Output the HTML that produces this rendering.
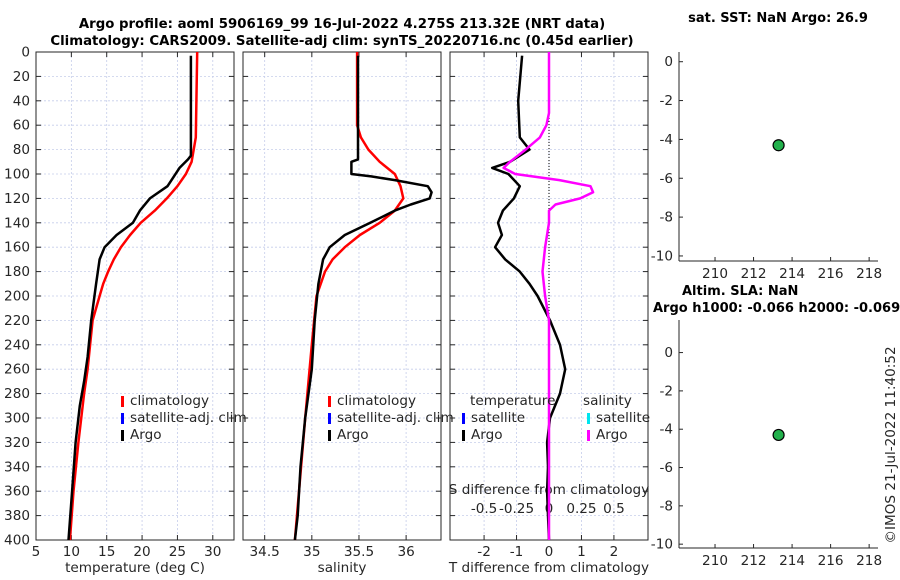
<!DOCTYPE html>
<html><head><meta charset="utf-8"><style>
html,body{margin:0;padding:0;background:#fff;}
svg{display:block;font-family:"DejaVu Sans","Liberation Sans",sans-serif;}
</style></head><body>
<svg id="c" width="900" height="580" viewBox="0 0 900 580"></svg>
<script>
const depthTicks=[0,20,40,60,80,100,120,140,160,180,200,220,240,260,280,300,320,340,360,380,400];
const tempTicks=[5,10,15,20,25,30];
const salTicks=[34.5,35,35.5,36];
const tdiffTicks=[-2,-1,0,1,2];
const sdiffTicks=[-0.5,-0.25,0,0.25,0.5];
const sdiffLabels=["-0.5","-0.25","0","0.25","0.5"];
const mapXTicks=[210,212,214,216,218];
const mapYTicks=[0,-2,-4,-6,-8,-10];
const argoTempDepth=[3,85,88,95,110,120,130,140,150,160,170,190,220,250,270,290,320,360,400];
const argoTemp=[26.9,26.9,26.5,25.3,23.6,21.1,19.7,18.7,16.4,14.7,14.0,13.5,12.8,12.3,11.8,11.2,10.6,10.1,9.6];
const climTempDepth=[0,70,90,100,110,120,130,140,150,160,170,180,190,200,220,260,280,320,360,400];
const climTemp=[27.8,27.6,27.0,26.2,25.0,23.5,21.8,19.8,18.3,17.0,16.0,15.2,14.5,14.0,13.0,12.3,11.8,11.0,10.3,9.8];
const argoSalDepth=[3,88,90,100,102,105,110,115,120,125,130,140,150,160,170,190,220,260,300,340,380,400];
const argoSal=[35.49,35.49,35.42,35.42,35.63,35.88,36.23,36.27,36.25,36.05,35.88,35.62,35.35,35.19,35.12,35.07,35.03,35.00,34.93,34.88,34.85,34.82];
const climSalDepth=[0,60,70,80,90,100,110,120,130,140,150,160,170,180,200,240,300,400];
const climSal=[35.48,35.48,35.52,35.6,35.72,35.88,35.94,35.97,35.88,35.72,35.51,35.35,35.22,35.14,35.05,35.0,34.93,34.82];
const tdiffDepth=[3,40,70,80,90,95,100,110,120,130,140,150,160,170,180,190,200,220,240,260,280,300,320,340,360,380,400];
const tdiff=[-0.83,-0.95,-0.9,-0.6,-1.2,-1.75,-1.25,-0.9,-1.08,-1.42,-1.57,-1.45,-1.66,-1.35,-0.9,-0.6,-0.35,0.03,0.34,0.5,0.34,0.03,-0.06,-0.03,-0.06,-0.03,0.0];
const sdiffDepth=[0,50,60,70,80,90,95,100,105,110,115,120,125,130,140,160,180,200,220,300,400];
const sdiff=[0,0,-0.02,-0.07,-0.18,-0.3,-0.35,-0.26,0.08,0.32,0.34,0.24,0.05,0,0,-0.03,-0.05,-0.03,0,0,0];
const argoLon=[213.3];
const argoLatTop=[-4.3];
const argoLatBot=[-4.3];

const svg=document.getElementById('c');
const NS='http://www.w3.org/2000/svg';
function mk(tag,attrs,parent){const e=document.createElementNS(NS,tag);for(const k in attrs)e.setAttribute(k,attrs[k]);(parent||svg).appendChild(e);return e;}
function txt(s,x,y,opts,parent){const e=mk('text',Object.assign({x:x,y:y,'font-size':13.6,fill:'#262626'},opts||{}),parent);e.textContent=s;return e;}

const TOP=52,BOT=540;
const yD=d=>TOP+(d/400)*(BOT-TOP);
function panel(name,x0,x1,vmin,vmax,ticks,labels,xlabel){
  const g=mk('g',{});
  
  
  const xs=v=>x0+(v-vmin)/(vmax-vmin)*(x1-x0);
  ticks.forEach((t,i)=>{const x=xs(t);
    mk('line',{x1:x,x2:x,y1:TOP,y2:BOT,stroke:'#c5cdea','stroke-width':0.8,'stroke-dasharray':'2,2'},g);
    mk('line',{x1:x,x2:x,y1:BOT,y2:BOT-5,stroke:'#262626'},g);
    mk('line',{x1:x,x2:x,y1:TOP,y2:TOP+5,stroke:'#262626'},g);
    const l=txt(labels[i],x,556,{'text-anchor':'middle'},g);
    
  });
  depthTicks.forEach(d=>{const y=yD(d);
    mk('line',{x1:x0,x2:x1,y1:y,y2:y,stroke:'#c5cdea','stroke-width':0.8,'stroke-dasharray':'2,2'},g);
    mk('line',{x1:x0,x2:x0+5,y1:y,y2:y,stroke:'#262626'},g);
    mk('line',{x1:x1,x2:x1-5,y1:y,y2:y,stroke:'#262626'},g);
  });
  mk('rect',{x:x0,y:TOP,width:x1-x0,height:BOT-TOP,fill:'none',stroke:'#262626','stroke-width':1},g);
  const xl=txt(xlabel,(x0+x1)/2,572,{'text-anchor':'middle'},g);
  
  return {g,xs};
}
function line(p,vals,depths,color,w,name){
  const pts=vals.map((v,i)=>p.xs(v).toFixed(1)+','+yD(depths[i]).toFixed(1)).join(' ');
  const e=mk('polyline',{points:pts,fill:'none',stroke:color,'stroke-width':w,'stroke-linejoin':'round'},p.g);
  
}
function legend(g,x,y,items){
  items.forEach((it,i)=>{
    if(it.c) mk('rect',{x:x,y:y+i*17-9,width:3,height:11,fill:it.c},g);
    const t=txt(it.t,x+(it.c?9:0),y+i*17,{},g);
    
  });
}

let t1=txt('Argo profile: aoml 5906169_99 16-Jul-2022 4.275S 213.32E (NRT data)',342,28,{'text-anchor':'middle','font-weight':'bold',fill:'#000','font-size':13.3});

let t2=txt('Climatology: CARS2009. Satellite-adj clim: synTS_20220716.nc (0.45d earlier)',342,45,{'text-anchor':'middle','font-weight':'bold',fill:'#000','font-size':13.3});


depthTicks.forEach(d=>{const l=txt(String(d),30,yD(d)+4.5,{'text-anchor':'end'});
  });

const p1=panel('temperature-panel',36,234,5,33,tempTicks,tempTicks.map(String),'temperature (deg C)');
line(p1,climTemp,climTempDepth,'#ff0000',2.5,'climatology-temp-line');
line(p1,argoTemp,argoTempDepth,'#000',2.5,'argo-temp-line');
legend(p1.g,121,405,[{c:'#f00',t:'climatology'},{c:'#00f',t:'satellite-adj. clim'},{c:'#000',t:'Argo'}]);

const p2=panel('salinity-panel',243,441,34.27,36.37,salTicks,salTicks.map(String),'salinity');
line(p2,climSal,climSalDepth,'#ff0000',2.5,'climatology-salinity-line');
line(p2,argoSal,argoSalDepth,'#000',2.5,'argo-salinity-line');
legend(p2.g,328,405,[{c:'#f00',t:'climatology'},{c:'#00f',t:'satellite-adj. clim'},{c:'#000',t:'Argo'}]);

const p3=panel('difference-panel',450,648,-3.05,3.05,tdiffTicks,tdiffTicks.map(String),'T difference from climatology');
mk('line',{x1:p3.xs(0),x2:p3.xs(0),y1:TOP,y2:BOT,stroke:'#000','stroke-width':1,'stroke-dasharray':'1,2'},p3.g);
sdiffTicks.forEach((s,i)=>{const l=txt(sdiffLabels[i],p3.xs(s*4),513,{'text-anchor':'middle'},p3.g);
  });
const sl=txt('S difference from climatology',549,494,{'text-anchor':'middle'},p3.g);

line(p3,tdiff,tdiffDepth,'#000',2.5,'t-diff-line');
line(p3,sdiff.map(v=>v*4),sdiffDepth,'#ff00ff',2.5,'s-diff-line');
legend(p3.g,470,405,[{t:'temperature'}]);
legend(p3.g,462,422,[{c:'#00f',t:'satellite'},{c:'#000',t:'Argo'}]);
legend(p3.g,583,405,[{t:'salinity'}]);
legend(p3.g,587,422,[{c:'#00e5ee',t:'satellite'},{c:'#ff00ff',t:'Argo'}]);

function mapPanel(name,top,bot,ymax,ymin,lat){
  const g=mk('g',{});
  
  
  const x0=679,x1=878,xmin=208.13,xmax=218.46;
  const xs=v=>x0+(v-xmin)/(xmax-xmin)*(x1-x0);
  const ys=v=>top+(ymax-v)/(ymax-ymin)*(bot-top);
  mk('line',{x1:x0,x2:x0,y1:top,y2:bot,stroke:'#262626'},g);
  mk('line',{x1:x0,x2:x1,y1:bot,y2:bot,stroke:'#262626'},g);
  mapXTicks.forEach(t=>{const x=xs(t);mk('line',{x1:x,x2:x,y1:bot,y2:bot-4,stroke:'#262626'},g);
    const l=txt(String(t),x,bot+17,{'text-anchor':'middle'},g);});
  mapYTicks.forEach(t=>{const y=ys(t);mk('line',{x1:x0,x2:x0+4,y1:y,y2:y,stroke:'#262626'},g);
    const l=txt(String(t),x0-6,y+4.5,{'text-anchor':'end'},g);});
  argoLon.forEach((lo,i)=>{const c=mk('circle',{cx:xs(lo),cy:ys(lat[i]),r:5.5,fill:'#22b14c',stroke:'#000','stroke-width':1.2},g);
    });
  return g;
}
mapPanel('sst-map-panel',52,261,0.5,-10.26,argoLatTop);
mapPanel('sla-map-panel',320,548,1.7,-10.2,argoLatBot);
let m1=txt('sat. SST: NaN Argo: 26.9',778,22,{'text-anchor':'middle','font-weight':'bold',fill:'#000','font-size':13});

let m2=txt('Altim. SLA: NaN',682,295,{'text-anchor':'start','font-weight':'bold',fill:'#000','font-size':13});

let m3=txt('Argo h1000: -0.066 h2000: -0.069',653,312,{'text-anchor':'start','font-weight':'bold',fill:'#000','font-size':13});

let ts=txt('©IMOS 21-Jul-2022 11:40:52',0,0,{'text-anchor':'middle',transform:'translate(895,445) rotate(-90)'});

</script>
</body></html>
